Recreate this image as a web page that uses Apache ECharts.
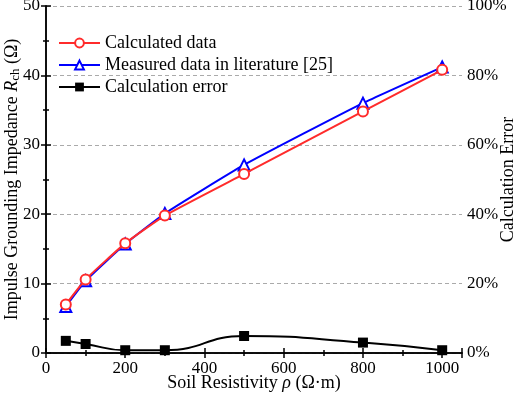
<!DOCTYPE html>
<html>
<head>
<meta charset="utf-8">
<script src="https://cdn.jsdelivr.net/npm/echarts@6/dist/echarts.min.js"></script>
<style>
  html, body { margin: 0; padding: 0; background: #fff; }
  #chart { width: 519px; height: 398px; }
</style>
</head>
<body>
<div id="chart"></div>
<script>
// soil resistivity (Ω·m)
const resistivity = [50, 100, 200, 300, 500, 800, 1000];
// impulse grounding impedance (Ω)
const calculated = [7.0, 10.6, 15.8, 19.8, 25.8, 34.8, 40.8];
const measured = [6.7, 10.4, 15.7, 20.1, 27.1, 36.0, 41.2];
// calculation error (%)
const calcError = [3.5, 2.6, 0.8, 0.8, 4.9, 3.0, 0.8];

const FONT = "Liberation Serif";
const FS = 18;     // legend + axis names
const TICK_FS = 17; // tick labels

const pairs = (ys) => resistivity.map((x, i) => [x, ys[i]]);

const chart = echarts.init(document.getElementById("chart"));

const tickStyle = {
  show: true,
  inside: true,
  length: 5,
  lineStyle: { color: "#000", width: 1.5 },
};
const minorStyle = {
  show: true,
  splitNumber: 2,
  length: 3,
  lineStyle: { color: "#000", width: 1.5 },
};
const lineAxis = { show: true, lineStyle: { color: "#000", width: 1.5 } };

chart.setOption({
  animation: false,
  textStyle: { fontFamily: FONT },
  grid: { left: 46, right: 57, top: 6, bottom: 45, outerBoundsMode: "none", containLabel: false },
  legend: {
    data: ["Calculated data", "Measured data in literature [25]", "Calculation error"],
    orient: "vertical",
    left: 53,
    top: 29,
    itemWidth: 41,
    itemHeight: 11,
    itemGap: 4,
    textStyle: { fontFamily: FONT, fontSize: FS, color: "#000" },
  },
  xAxis: [
    {
      type: "value",
      min: 0,
      max: 1050,
      interval: 200,
      axisLine: lineAxis,
      axisTick: tickStyle,
      minorTick: minorStyle,
      splitLine: { show: false },
      axisLabel: {
        color: "#000",
        fontSize: TICK_FS,
        margin: 7,
        formatter: (v) => (v % 200 === 0 ? String(v) : ""),
      },
      name: "Soil Resistivity {i|ρ} (Ω·m)",
      nameLocation: "middle",
      nameGap: 21,
      nameMoveOverlap: false,
      nameTextStyle: {
        color: "#000",
        fontSize: FS,
        rich: { i: { fontStyle: "italic", fontSize: FS, fontFamily: FONT } },
      },
    },
    {
      type: "value",
      position: "top",
      min: 0,
      max: 1050,
      interval: 200,
      axisLine: lineAxis,
      axisTick: tickStyle,
      minorTick: minorStyle,
      splitLine: { show: false },
      axisLabel: { show: false },
    },
  ],
  yAxis: [
    {
      type: "value",
      min: 0,
      max: 50,
      interval: 10,
      axisLine: lineAxis,
      axisTick: tickStyle,
      minorTick: minorStyle,
      splitLine: { show: true, lineStyle: { color: "#aaa", type: [4, 3], width: 1 } },
      axisLabel: { color: "#000", fontSize: TICK_FS, margin: 6 },
      name: "Impulse Grounding Impedance {i|R}{sub|ch} (Ω)",
      nameLocation: "middle",
      nameRotate: 90,
      nameGap: 24,
      nameMoveOverlap: false,
      nameTextStyle: {
        color: "#000",
        fontSize: FS,
        rich: {
          i: { fontStyle: "italic", fontSize: FS, fontFamily: FONT },
          sub: { fontSize: 13, fontFamily: FONT, verticalAlign: "bottom", padding: [7, 0, 0, 0] },
        },
      },
    },
    {
      type: "value",
      min: 0,
      max: 100,
      interval: 20,
      position: "right",
      axisLine: lineAxis,
      axisTick: tickStyle,
      minorTick: minorStyle,
      splitLine: { show: false },
      axisLabel: { color: "#000", fontSize: TICK_FS, margin: 5, formatter: "{value}%" },
      name: "Calculation Error",
      nameLocation: "middle",
      nameRotate: 90,
      nameGap: 37,
      nameMoveOverlap: false,
      nameTextStyle: { color: "#000", fontSize: FS },
    },
  ],
  series: [
    {
      name: "Measured data in literature [25]",
      type: "line",
      data: pairs(measured),
      smooth: 0.15,
      symbol: "triangle",
      symbolSize: 11,
      itemStyle: { color: "#fff", borderColor: "#0000ff", borderWidth: 2 },
      lineStyle: { color: "#0000ff", width: 2 },
      z: 2,
    },
    {
      name: "Calculated data",
      type: "line",
      data: pairs(calculated),
      smooth: 0.15,
      symbol: "circle",
      symbolSize: 10,
      itemStyle: { color: "#fff", borderColor: "#ff2b2b", borderWidth: 2 },
      lineStyle: { color: "#ff2b2b", width: 2 },
      z: 3,
    },
    {
      name: "Calculation error",
      type: "line",
      yAxisIndex: 1,
      data: pairs(calcError),
      smooth: 0.5,
      symbol: "rect",
      symbolSize: 10,
      itemStyle: { color: "#000" },
      lineStyle: { color: "#000", width: 2 },
      z: 4,
    },
  ],
});
</script>
</body>
</html>
